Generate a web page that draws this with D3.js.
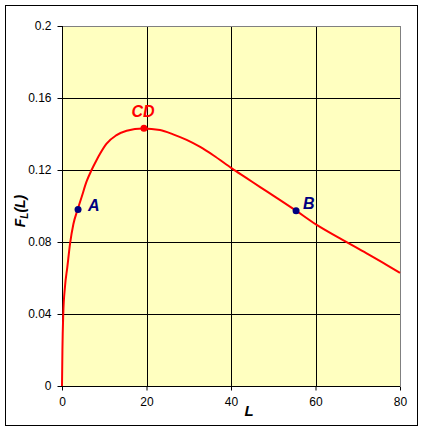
<!DOCTYPE html>
<html>
<head>
<meta charset="utf-8">
<script src="https://cdn.jsdelivr.net/npm/d3@7"></script>
<style>
html,body{margin:0;padding:0;background:#fff;}
svg{display:block;font-family:Arial,"Liberation Sans",sans-serif;}
</style>
</head>
<body>
<svg id="chart" width="425" height="432"></svg>
<script>
// ---- data ----
const curveL = [0, 0.1, 0.3, 0.7, 1.26, 1.9, 2.7, 3.7, 4.65, 5.8, 7.0, 8.2, 9.0, 10.5, 12.8, 15.3, 19.2, 23.2, 26.3, 29.5, 32.7, 35.8, 40.2, 43.7, 46.9, 50.0, 55.4, 60.1, 65.8, 72.1, 76.9, 80];
const curveF = [0, 0.02, 0.04, 0.055, 0.066, 0.079, 0.090, 0.098, 0.105, 0.1135, 0.12, 0.1256, 0.129, 0.1345, 0.1392, 0.1418, 0.1431, 0.1422, 0.1398, 0.1367, 0.1328, 0.1282, 0.1209, 0.1155, 0.1105, 0.1058, 0.0974, 0.0898, 0.0820, 0.0737, 0.0672, 0.0628];
const pointNames = ["A", "CD", "B"];
const pointL = [3.8, 19.4, 55.4];
const pointF = [0.098, 0.1432, 0.0974];
const xTicks = [0, 20, 40, 60, 80];
const yTicks = [0, 0.04, 0.08, 0.12, 0.16, 0.2];
const yTickLabels = ["0", "0.04", "0.08", "0.12", "0.16", "0.2"];

// ---- styles ----
const pointColors = ["#000080", "#FF0000", "#000080"];
const labelOffsets = [[10, 1, "start"], [-1, -11, "middle"], [7, -2, "start"]];

(function () {
const svg = d3.select("#chart");
const W = 425, H = 432;
const pL = 62, pR = 400, pT = 26, pB = 386;

svg.append("rect").attr("x", 0).attr("y", 0).attr("width", W).attr("height", H).attr("fill", "#fff");
svg.append("rect").attr("x", 5.5).attr("y", 5.5).attr("width", 412).attr("height", 420)
  .attr("fill", "none").attr("stroke", "#000").attr("stroke-width", 1);

const x = d3.scaleLinear().domain([0, 80]).range([pL, pR]);
const y = d3.scaleLinear().domain([0, 0.2]).range([pB, pT]);

svg.append("rect").attr("x", pL).attr("y", pT).attr("width", pR - pL).attr("height", pB - pT)
  .attr("fill", "#FFFFC0");

const g = svg.append("g");
g.selectAll("line.vg").data(xTicks.slice(1, -1)).enter().append("line")
  .attr("x1", d => Math.round(x(d)) + 0.5).attr("x2", d => Math.round(x(d)) + 0.5)
  .attr("y1", pT).attr("y2", pB).attr("stroke", "#000").attr("stroke-width", 1);
g.selectAll("line.hg").data(yTicks.slice(1, -1)).enter().append("line")
  .attr("y1", d => Math.round(y(d)) + 0.5).attr("y2", d => Math.round(y(d)) + 0.5)
  .attr("x1", pL).attr("x2", pR).attr("stroke", "#000").attr("stroke-width", 1);

svg.append("line").attr("x1", pL).attr("x2", pR + 0.5).attr("y1", pT + 0.5).attr("y2", pT + 0.5).attr("stroke", "#808080");
svg.append("line").attr("x1", pR + 0.5).attr("x2", pR + 0.5).attr("y1", pT).attr("y2", pB).attr("stroke", "#808080");

const xAxis = d3.axisBottom(x).tickValues(xTicks).tickSize(4).tickPadding(7).tickFormat(d3.format("d"));
const yAxis = d3.axisLeft(y).tickValues(yTicks).tickSize(5).tickPadding(6).tickFormat((d, i) => yTickLabels[i]);

const gx = svg.append("g").attr("transform", `translate(0,${pB + 0.5})`).call(xAxis);
const gy = svg.append("g").attr("transform", `translate(${pL + 0.5},0)`).call(yAxis);
[gx, gy].forEach(a => {
  a.select(".domain").attr("stroke", "#000");
  a.selectAll(".tick line").attr("stroke", "#000");
  a.selectAll("text").attr("fill", "#000").style("font-size", "12px").style("font-family", "Arial, 'Liberation Sans', sans-serif");
});
gx.select(".domain").attr("d", `M${pL},0H${pR}`);
gy.select(".domain").attr("d", `M0,${pB}V${pT}`);

const data = curveL.map((l, i) => [l, curveF[i]]);
const line = d3.line().x(d => x(d[0])).y(d => y(d[1])).curve(d3.curveMonotoneX);
svg.append("path").datum(data).attr("d", line).attr("fill", "none")
  .attr("stroke", "#FF0000").attr("stroke-width", 2);

pointNames.forEach((n, i) => {
  const px = x(pointL[i]), py = y(pointF[i]);
  svg.append("circle").attr("cx", px).attr("cy", py).attr("r", 3.5).attr("fill", pointColors[i]);
  svg.append("text").attr("x", px + labelOffsets[i][0]).attr("y", py + labelOffsets[i][1])
    .attr("text-anchor", labelOffsets[i][2])
    .attr("fill", pointColors[i]).style("font-size", "16px").style("font-weight", "bold").style("font-style", "italic")
    .text(n);
});

svg.append("text").attr("x", 249).attr("y", 416).attr("text-anchor", "middle")
  .style("font-size", "15px").style("font-weight", "bold").style("font-style", "italic").text("L");

const yt = svg.append("text").attr("transform", "translate(25,211) rotate(-90)").attr("text-anchor", "middle")
  .style("font-size", "14px").style("font-weight", "bold").style("font-style", "italic");
yt.append("tspan").text("F");
yt.append("tspan").attr("dy", 3).style("font-size", "10px").text("L");
yt.append("tspan").attr("dy", -3).text("(L)");
})();
</script>
</body>
</html>
